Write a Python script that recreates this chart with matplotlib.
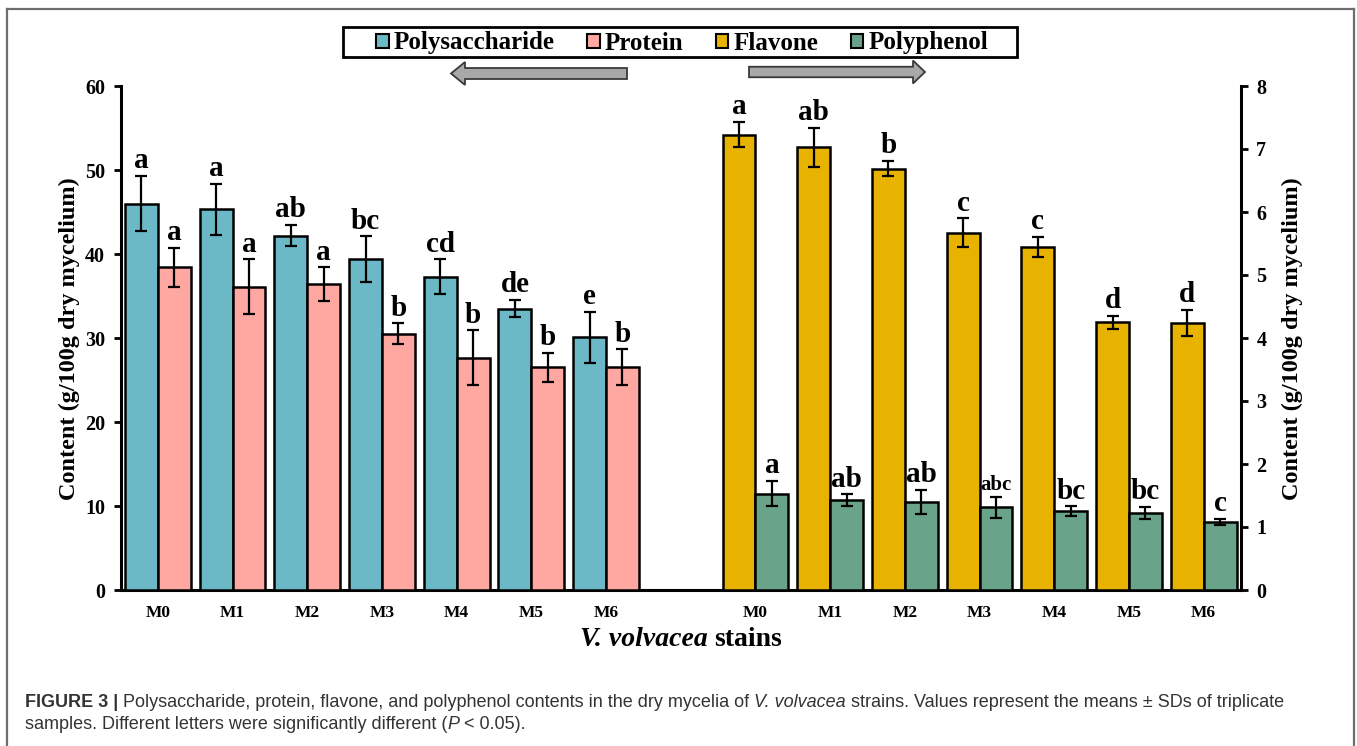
import matplotlib
matplotlib.use("Agg")
import matplotlib.pyplot as plt
from matplotlib.patches import Rectangle, Polygon, Patch
from matplotlib.lines import Line2D
from matplotlib import font_manager
import numpy as np

# ---- data -------------------------------------------------------------
strains = ["M0", "M1", "M2", "M3", "M4", "M5", "M6"]

polysaccharide = [46.0, 45.3, 42.2, 39.4, 37.3, 33.5, 30.1]
polysaccharide_sd = [3.3, 3.05, 1.25, 2.7, 2.05, 1.05, 3.05]
protein = [38.4, 36.1, 36.4, 30.5, 27.65, 26.5, 26.5]
protein_sd = [2.3, 3.25, 2.0, 1.25, 3.25, 1.75, 2.15]

flavone = [7.23, 7.03, 6.69, 5.67, 5.45, 4.25, 4.24]
flavone_sd = [0.2, 0.31, 0.125, 0.23, 0.16, 0.1, 0.21]
polyphenol = [1.53, 1.43, 1.40, 1.31, 1.25, 1.22, 1.08]
polyphenol_sd = [0.2, 0.09, 0.19, 0.16, 0.08, 0.1, 0.05]

polysaccharide_letters = ["a", "a", "ab", "bc", "cd", "de", "e"]
protein_letters = ["a", "a", "a", "b", "b", "b", "b"]
flavone_letters = ["a", "ab", "b", "c", "c", "d", "d"]
polyphenol_letters = ["a", "ab", "ab", "abc", "bc", "bc", "c"]

left_ticks = [0, 10, 20, 30, 40, 50, 60]
right_ticks = [0, 1, 2, 3, 4, 5, 6, 7, 8]

series_names = ["Polysaccharide", "Protein", "Flavone", "Polyphenol"]
series_colors = ["#6BB9C7", "#FFA8A2", "#E8B200", "#69A48A"]

ylabel = "Content (g/100g dry mycelium)"

# ---- figure setup -----------------------------------------------------
W, H = 1357, 746
plt.rcParams["font.family"] = ["Liberation Serif", "DejaVu Serif"]
plt.rcParams["font.weight"] = "bold"

fig = plt.figure(figsize=(W / 100, H / 100), dpi=100)
fig.patch.set_facecolor("white")


def fx(px):
    return px / W


def fy(py):
    return 1 - py / H


ax = fig.add_axes([fx(120.5), fy(590), 1120.5 / W, 504 / H])
ax2 = ax.twinx()

bar_w = 0.44
left_pos = np.arange(len(strains))
right_pos = np.arange(len(strains)) + len(strains) + 1

edge_lw = 1.8
err_kw = dict(fmt="none", ecolor="black", elinewidth=1.6, capsize=4,
              capthick=1.6, zorder=4)


def grouped(axis, pos, vals_a, sd_a, let_a, col_a, vals_b, sd_b, let_b, col_b):
    for off, vals, sds, lets, col in ((-bar_w / 2, vals_a, sd_a, let_a, col_a),
                                      (bar_w / 2, vals_b, sd_b, let_b, col_b)):
        x = pos + off
        axis.bar(x, vals, width=bar_w, color=col, edgecolor="black",
                 linewidth=edge_lw, zorder=3)
        axis.errorbar(x, vals, yerr=sds, **err_kw)
        for xi, v, s, lab in zip(x, vals, sds, lets):
            size = 15 if len(lab) > 2 else 21
            axis.annotate(lab, (xi, v + s), xytext=(0, 5.5),
                          textcoords="offset points", ha="center",
                          va="baseline", fontsize=size, fontweight="bold",
                          zorder=5)


grouped(ax, left_pos, polysaccharide, polysaccharide_sd, polysaccharide_letters,
        series_colors[0], protein, protein_sd, protein_letters, series_colors[1])
grouped(ax2, right_pos, flavone, flavone_sd, flavone_letters, series_colors[2],
        polyphenol, polyphenol_sd, polyphenol_letters, series_colors[3])

ax.set_xlim(-0.5, len(strains) * 2 + 0.5)
ax.set_ylim(left_ticks[0], left_ticks[-1])
ax2.set_ylim(right_ticks[0], right_ticks[-1])
ax.set_yticks(left_ticks)
ax2.set_yticks(right_ticks)
ax.set_xticks(np.concatenate([left_pos, right_pos]))
ax.set_xticklabels(strains + strains)

for a in (ax, ax2):
    a.set_facecolor("none")
    for s in a.spines.values():
        s.set_linewidth(2.2)
    a.spines["top"].set_visible(False)
ax.spines["right"].set_visible(False)
ax2.spines["left"].set_visible(False)
ax2.spines["bottom"].set_visible(False)

ax.tick_params(axis="y", direction="out", length=5, width=2, pad=6,
               labelsize=14.5)
ax2.tick_params(axis="y", direction="out", length=5, width=2, pad=6,
                labelsize=14.5)
ax.tick_params(axis="x", length=0, pad=11, labelsize=12.5)

ax.set_ylabel(ylabel, fontsize=17.5, fontweight="bold")
ax.yaxis.set_label_coords((80 - 120.5) / 1120.5, (590 - 339) / 504)
ax2.set_ylabel(ylabel, fontsize=17.5, fontweight="bold", rotation=90)
ax2.yaxis.set_label_coords((1282 - 120.5) / 1120.5, (590 - 339) / 504)

# ---- legend -----------------------------------------------------------
handles = [Patch(facecolor=c, edgecolor="black", linewidth=1.5)
           for c in series_colors]
fig.legend(handles, series_names, ncol=4, loc="center",
           bbox_to_anchor=(fx(682), fy(43)), frameon=False, fontsize=18,
           handlelength=0.5, handleheight=0.5, handletextpad=0.2,
           columnspacing=1.3, borderpad=0, borderaxespad=0)
fig.patches.append(Rectangle((fx(343), fy(57)), 674 / W, 30 / H,
                             transform=fig.transFigure, fill=False,
                             edgecolor="black", linewidth=2))


# direction arrows under the legend
def arrow(x_tail, x_tip, yc, shaft_h, head_h, head_len):
    d = np.sign(x_tip - x_tail)
    xb = x_tip - d * head_len
    pts = [(x_tail, yc - shaft_h / 2), (xb, yc - shaft_h / 2),
           (xb, yc - head_h / 2), (x_tip, yc), (xb, yc + head_h / 2),
           (xb, yc + shaft_h / 2), (x_tail, yc + shaft_h / 2)]
    poly = Polygon([(fx(x), fy(y)) for x, y in pts], closed=True,
                   transform=fig.transFigure, facecolor="#A8A8A8",
                   edgecolor="#3A3A3A", linewidth=1.3)
    fig.patches.append(poly)


arrow(627, 451, 73.5, 11, 23, 14)
arrow(749, 925, 72, 10.5, 23, 12)

# outer frame
frame_c = "#6E6E6E"
for xs, ys in (([7, 7], [746, 9]), ([7, 1354], [9, 9]), ([1354, 1354], [9, 746])):
    fig.add_artist(Line2D([fx(v) for v in xs], [fy(v) for v in ys],
                          transform=fig.transFigure, color=frame_c,
                          linewidth=1.6))

# ---- mixed-style text runs ---------------------------------------------
renderer = fig.canvas.get_renderer()


def text_width(s, **kw):
    t = fig.text(0, 0, s, **kw)
    w = t.get_window_extent(renderer).width
    t.remove()
    return w


def space_width(**kw):
    return text_width("a a", **kw) - text_width("aa", **kw)


def draw_runs(runs, x_px, base_px, align="left", **common):
    """runs: list of (text, style-dict, space_before)."""
    widths, gaps = [], []
    for s, st, sp in runs:
        kw = dict(common, **st)
        widths.append(text_width(s, **kw))
        gaps.append(space_width(**kw) if sp else 0.0)
    total = sum(widths) + sum(gaps)
    x = x_px - total / 2 if align == "center" else x_px
    for (s, st, sp), w, g in zip(runs, widths, gaps):
        x += g
        fig.text(fx(x), fy(base_px), s, ha="left", va="baseline",
                 **dict(common, **st))
        x += w
    return total


# x-axis title
draw_runs([("V. volvacea", dict(fontstyle="italic", fontweight="bold"), False),
           ("stains", dict(fontstyle="normal", fontweight="bold"), True)],
          681, 646, align="center", fontsize=20,
          family=["Liberation Serif", "DejaVu Serif"])

# caption
names = {f.name for f in font_manager.fontManager.ttflist}
cap_family = "Liberation Sans Narrow" if "Liberation Sans Narrow" in names else "Liberation Sans"
reg = dict(fontweight="normal", fontstyle="normal")
ita = dict(fontweight="normal", fontstyle="italic")
bld = dict(fontweight="bold", fontstyle="normal")
line1 = [("FIGURE 3 |", bld, False),
         ("Polysaccharide, protein, flavone, and polyphenol contents in the dry mycelia of", reg, True),
         ("V. volvacea", ita, True),
         ("strains. Values represent the means \u00b1 SDs of triplicate", reg, True)]
line2 = [("samples. Different letters were significantly different (", reg, False),
         ("P", ita, False),
         ("< 0.05).", reg, True)]

# size the caption so that its first line spans the frame width
probe = 10.0
w_probe = 0.0
for s, st, sp in line1:
    kw = dict(st, fontsize=probe, family=[cap_family, "DejaVu Sans"])
    w_probe += text_width(s, **kw) + (space_width(**kw) if sp else 0)
cap_size = probe * (1290 - 25) / w_probe

cap_common = dict(fontsize=cap_size, family=[cap_family, "DejaVu Sans"],
                  color="#333333")
draw_runs(line1, 25, 707, **cap_common)
draw_runs(line2, 25, 729, **cap_common)

fig.savefig("out.png", dpi=100, facecolor="white")
